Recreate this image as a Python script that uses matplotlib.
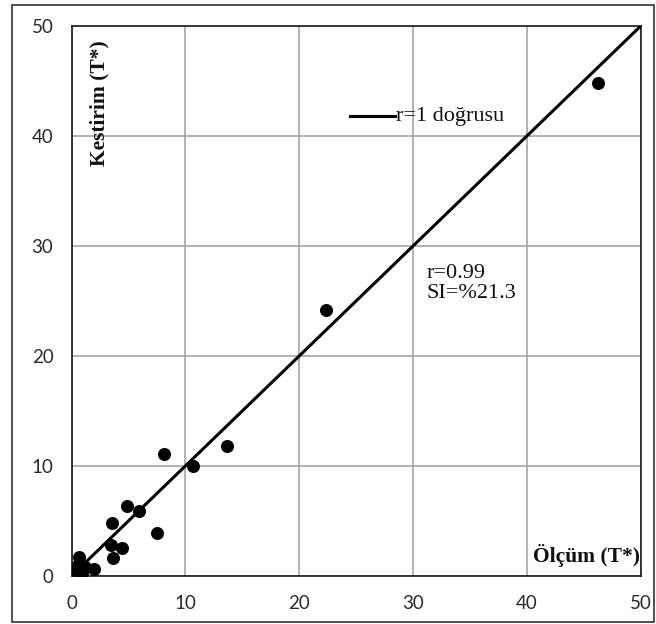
import matplotlib
matplotlib.use("Agg")
import matplotlib.pyplot as plt
from matplotlib.patches import Rectangle

# Measured (Ölçüm) and predicted (Kestirim) values
olcum = [46.3, 22.4, 13.7, 10.7, 8.1, 7.5, 5.9, 4.85, 3.6, 3.5, 4.4, 3.65, 2.0,
         0.7, 0.6, 0.9, 0.3, 1.2, 0.8]
kestirim = [44.8, 24.2, 11.8, 10.0, 11.1, 3.9, 5.9, 6.4, 4.85, 2.8, 2.5, 1.6, 0.6,
            1.7, 1.0, 0.25, 0.5, 0.8, 0.3]
ref_line = [0, 50]
ticks = [0, 10, 20, 30, 40, 50]
r_text = "r=0.99"
si_text = "SI=%21.3"

fig = plt.figure(figsize=(6.56, 6.24), dpi=100)
ax = fig.add_axes([0.109, 0.077, 0.8674, 0.881])

serif = "Liberation Serif"

ax.set_xlim(0, 50)
ax.set_ylim(0, 50)
ax.set_xticks(ticks)
ax.set_yticks(ticks)
ax.grid(True, color="#a6a6a6", linewidth=1.2)
ax.set_axisbelow(True)
ax.tick_params(length=0, labelsize=13.5, labelcolor="#2b2b2b")
ax.tick_params(axis="x", pad=14)
ax.tick_params(axis="y", pad=13)
for lab in ax.get_xticklabels() + ax.get_yticklabels():
    lab.set_fontfamily("Lato")
for s in ax.spines.values():
    s.set_color("#1a1a1a")
    s.set_linewidth(1.2)

ax.plot(ref_line, ref_line, color="black", linewidth=2.2, zorder=3)
ax.scatter(olcum, kestirim, s=88, color="black", zorder=4, linewidths=0)

# Legend-style key for the r=1 line
ax.plot([24.45, 28.4], [41.8, 41.8], color="black", linewidth=2.2, zorder=3)
ax.text(28.5, 41.8, "r=1 doğrusu", fontsize=16, family=serif,
        va="center", ha="left", color="#111")

ax.text(31.2, 26.6, r_text + "\n" + si_text, fontsize=16, family=serif,
        va="center", ha="left", linespacing=1.1, color="#111")

ax.text(2.5, 48.7, "Kestirim (T*)", fontsize=15.5, family=serif, weight="bold",
        rotation=90, va="top", ha="center", color="#111")
ax.text(49.95, 1.9, "Ölçüm (T*)", fontsize=15.5, family=serif, weight="bold",
        va="center", ha="right", color="#111")

# Frame around the whole figure
fig.patches.append(Rectangle((12 / 656, 2 / 624), 642 / 656, 617 / 624,
                             transform=fig.transFigure, fill=False,
                             edgecolor="#333", linewidth=1.2))

fig.savefig("out.png", dpi=100)
